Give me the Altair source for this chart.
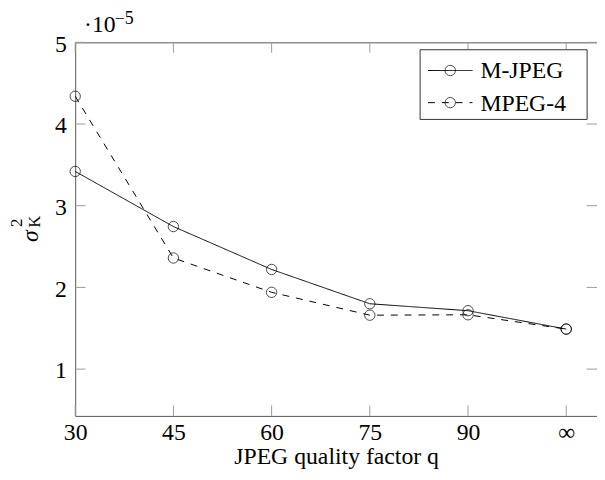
import altair as alt
import pandas as pd

# ---- data ----
series_names = ["M-JPEG", "MPEG-4"]
q_positions = [30, 45, 60, 75, 90, 105]          # 105 is the position of q = infinity
q_labels = ["30", "45", "60", "75", "90", "∞"]
mjpeg_values = [3.42, 2.745, 2.22, 1.80, 1.715, 1.49]
mpeg4_values = [4.34, 2.36, 1.94, 1.66, 1.665, 1.49]
y_tick_values = [1, 2, 3, 4, 5]
dash_patterns = [[1, 0], [7, 7]]

FONT = "Liberation Serif"
W, H = 528, 378
TICK = 10.5

rows = []
for name, vals in zip(series_names, [mjpeg_values, mpeg4_values]):
    for q, v in zip(q_positions, vals):
        rows.append({"q": q, "value": v, "series": name})
df = pd.DataFrame(rows)

xscale = alt.Scale(domain=[30, 109.7], nice=False, zero=False)
yscale = alt.Scale(domain=[0.427, 5], nice=False, zero=False)

label_expr = " : ".join(
    [f"datum.value == {p} ? '{l}'" for p, l in zip(q_positions, q_labels)] + ["datum.label"]
)

x_main = alt.X("q:Q", scale=xscale, axis=alt.Axis(
    values=q_positions, labelExpr=label_expr, title="JPEG quality factor q",
    domain=False, ticks=False, tickSize=0, grid=False, labelPadding=5, labelFlush=False,
    labelFont=FONT, labelFontSize=24, labelColor="black",
    titleFont=FONT, titleFontSize=24, titleFontWeight="normal", titleColor="black",
    titleBaseline="alphabetic", titleY=48, titleX=W / 2, titleAnchor="middle"))
y_main = alt.Y("value:Q", scale=yscale, axis=alt.Axis(
    values=y_tick_values, format="d", title=None, domain=False, ticks=False, tickSize=0, grid=False,
    labelPadding=9, labelOffset=2, labelFlush=False, labelFont=FONT, labelFontSize=24, labelColor="black"))

lines = alt.Chart(df).mark_line(color="black", strokeWidth=1).encode(
    x=x_main, y=y_main,
    strokeDash=alt.StrokeDash("series:N", scale=alt.Scale(domain=series_names, range=dash_patterns), legend=None),
)

points = alt.Chart(df).mark_point(shape="circle", filled=False, color="black", size=110, strokeWidth=1).encode(
    x=alt.X("q:Q", scale=xscale), y=alt.Y("value:Q", scale=yscale), detail="series:N"
)

# ---- frame ticks (pgfplots style, inward, on all four sides) ----
xt = pd.DataFrame({"q": q_positions})
yt = pd.DataFrame({"value": y_tick_values})
tick_color = "#9a9a9a"
ticks_bottom = alt.Chart(xt).mark_rule(color=tick_color, strokeWidth=1).encode(
    x=alt.X("q:Q", scale=xscale), y=alt.value(H), y2=alt.value(H - TICK))
ticks_top = alt.Chart(xt).mark_rule(color=tick_color, strokeWidth=1).encode(
    x=alt.X("q:Q", scale=xscale), y=alt.value(0), y2=alt.value(TICK))
ticks_left = alt.Chart(yt).mark_rule(color=tick_color, strokeWidth=1).encode(
    y=alt.Y("value:Q", scale=yscale), x=alt.value(0), x2=alt.value(TICK))
ticks_right = alt.Chart(yt).mark_rule(color=tick_color, strokeWidth=1).encode(
    y=alt.Y("value:Q", scale=yscale), x=alt.value(W - TICK), x2=alt.value(W))

def one(s):
    return pd.DataFrame({"t": [s]})

def txt(s, x, y, size, **kw):
    return alt.Chart(one(s)).mark_text(font=FONT, fontSize=size, color="black", **kw).encode(
        text="t:N", x=alt.value(x), y=alt.value(y))

# ---- exponent and y-axis title ----
exp_base = txt("·10", 9, -10, 24, align="left", baseline="alphabetic")
exp_pow = txt("−5", 40, -19, 18, align="left", baseline="alphabetic")
ylab_sigma = txt("σ", -45, 196, 24, align="center", baseline="middle", angle=270, fontStyle="italic")
ylab_two = txt("2", -59, 182.5, 17, align="center", baseline="middle", angle=270)
ylab_k = txt("K", -41, 181.5, 17, align="center", baseline="middle", angle=270)

# ---- legend (box with sample line, marker and label per series) ----
LX0, LX1, LY0, LY1 = 349, 518, 7.5, 78
row_y = [28.5, 61]
legend_box = alt.Chart(one("box")).mark_rect(fill="white", stroke="#333", strokeWidth=1).encode(
    x=alt.value(LX0), x2=alt.value(LX1), y=alt.value(LY0), y2=alt.value(LY1))
legend_parts = [legend_box]
for name, dash, ry in zip(series_names, dash_patterns, row_y):
    legend_parts.append(alt.Chart(one(name)).mark_rule(color="black", strokeWidth=1, strokeDash=dash).encode(
        x=alt.value(357), x2=alt.value(402), y=alt.value(ry)))
    legend_parts.append(alt.Chart(one(name)).mark_point(shape="circle", filled=False, color="black",
                                                        size=110, strokeWidth=1).encode(
        x=alt.value(379.5), y=alt.value(ry)))
    legend_parts.append(txt(name, 410, ry + 1, 24, align="left", baseline="middle"))

chart = alt.layer(
    lines, points,
    ticks_bottom, ticks_top, ticks_left, ticks_right,
    exp_base, exp_pow, ylab_sigma, ylab_two, ylab_k,
    *legend_parts,
).properties(
    width=W, height=H,
    autosize=alt.AutoSizeParams(type="none"),
    padding={"left": 68, "top": 32, "right": 0, "bottom": 54},
).configure_view(stroke="#555", strokeWidth=1)

chart.save("out.html", embed_options={"renderer": "svg", "actions": False})
